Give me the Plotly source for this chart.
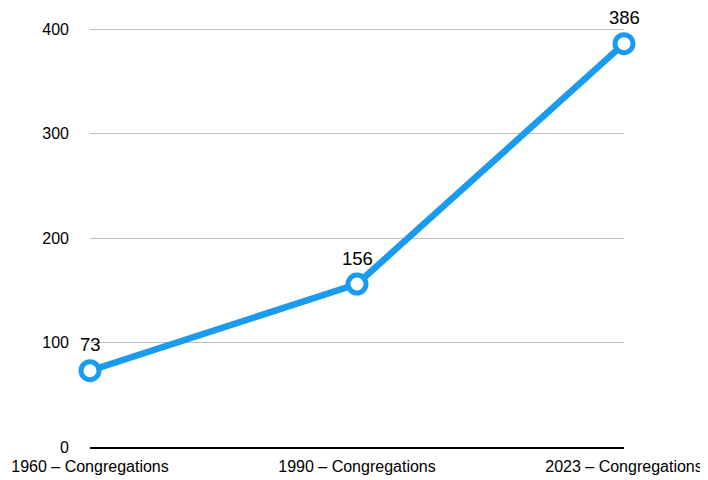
import plotly.graph_objects as go

categories = ["1960 – Congregations", "1990 – Congregations", "2023 – Congregations"]
congregations = [73, 156, 386]

blue = "#1a9bf0"

fig = go.Figure()
fig.add_trace(go.Scatter(
    x=categories,
    y=congregations,
    mode="lines+markers",
    line=dict(color=blue, width=6.5),
    marker=dict(size=18, color="white", line=dict(color=blue, width=5)),
    cliponaxis=False,
    showlegend=False,
))

# value labels above each point
for c, v in zip(categories, congregations):
    fig.add_annotation(x=c, y=v, text=str(v), showarrow=False, yshift=26,
                       font=dict(size=18.5, color="black"))

# page body adds 8px offset, so the figure is a bit smaller than the window
fig.update_layout(
    width=700,
    height=472,
    margin=dict(l=82, r=84, t=19, b=33),
    paper_bgcolor="white",
    plot_bgcolor="white",
    font=dict(family="Liberation Sans, Arial, sans-serif", color="black"),
)
fig.update_xaxes(
    type="category",
    range=[0, 2],
    automargin=False,
    showgrid=False,
    showline=True,
    linecolor="black",
    linewidth=2,
    ticks="",
    tickfont=dict(size=16),
    ticklabelstandoff=4,
)
fig.update_yaxes(
    range=[0, 402],
    automargin=False,
    tickvals=[0, 100, 200, 300, 400],
    showgrid=True,
    gridcolor="#bdbdbd",
    gridwidth=1,
    zeroline=False,
    showline=False,
    tickfont=dict(size=16),
    ticklabelstandoff=20,
)

fig.write_html("out.html")
